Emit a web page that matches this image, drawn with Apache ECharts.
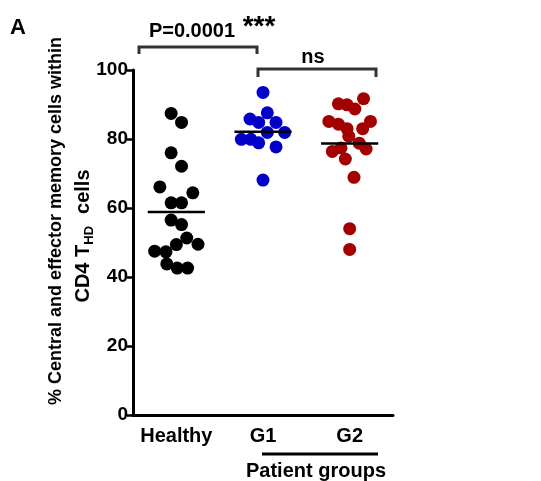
<!DOCTYPE html>
<html><head><meta charset="utf-8">
<script src="https://cdn.jsdelivr.net/npm/echarts@6/dist/echarts.min.js"></script>
<style>html,body{margin:0;padding:0;background:#fff}#c{width:541px;height:481px}</style>
</head><body><div id="c"></div>
<script>
const categories = ['Healthy', 'G1', 'G2'];
const yTicks = [0, 20, 40, 60, 80, 100];
const healthyValues = [87.4, 84.8, 76.0, 72.1, 66.1, 64.4, 61.5, 61.5, 56.5, 55.2, 51.3, 49.4, 49.5, 47.5, 47.3, 43.8, 42.6, 42.6];
const healthyJitter = [-0.06, 0.06, -0.06, 0.06, -0.19, 0.19, -0.06, 0.06, -0.06, 0.06, 0.12, 0.0, 0.25, -0.25, -0.12, -0.11, 0.01, 0.13];
const g1Values = [93.5, 87.6, 85.8, 84.8, 84.8, 81.9, 81.9, 79.9, 79.9, 78.9, 77.7, 68.1];
const g1Jitter = [0.0, 0.05, -0.15, -0.05, 0.15, 0.05, 0.25, -0.25, -0.14, -0.05, 0.15, 0.0];
const g2Values = [91.7, 90.2, 89.9, 88.7, 85.1, 85.1, 84.3, 83.0, 83.0, 80.8, 78.8, 77.1, 76.4, 77.4, 74.2, 68.9, 54.0, 48.0];
const g2Jitter = [0.16, -0.13, -0.03, 0.06, -0.24, 0.24, -0.13, -0.03, 0.15, -0.01, 0.11, 0.19, -0.2, -0.1, -0.05, 0.05, 0.0, 0.0];
const groupColors = ['#000000', '#0000c8', '#a50000'];

const FONT = '"Liberation Sans", Arial, Helvetica, sans-serif';
const groups = [
  {values: healthyValues, jitter: healthyJitter},
  {values: g1Values, jitter: g1Jitter},
  {values: g2Values, jitter: g2Jitter}
];
const mean = a => a.reduce((s, v) => s + v, 0) / a.length;

const series = [];
groups.forEach((g, gi) => {
  series.push({
    type: 'scatter', xAxisIndex: 1, yAxisIndex: 0,
    symbol: 'circle', symbolSize: 13,
    itemStyle: {color: groupColors[gi], opacity: 1},
    data: g.values.map((v, i) => [gi + g.jitter[i], v]),
    z: 2, silent: true
  });
});
groups.forEach((g, gi) => {
  const m = mean(g.values);
  series.push({
    type: 'line', xAxisIndex: 1, yAxisIndex: 0,
    symbol: 'none', silent: true,
    lineStyle: {color: '#000', width: 2.5},
    data: [[gi - 0.33, m], [gi + 0.33, m]],
    z: 5
  });
});

const chart = echarts.init(document.getElementById('c'), null, {renderer: 'canvas'});
chart.setOption({
  animation: false,
  backgroundColor: '#fff',
  grid: {left: 133, right: 148, top: 70, bottom: 66, containLabel: false},
  xAxis: [
    {
      type: 'category', data: categories, boundaryGap: true,
      axisLine: {onZero: false, lineStyle: {color: '#000', width: 3}},
      axisTick: {alignWithLabel: true, length: 5, lineStyle: {color: '#000', width: 2.5}},
      axisLabel: {interval: 0, color: '#000', fontFamily: FONT, fontWeight: 'bold', fontSize: 20, margin: 11},
      splitLine: {show: false}
    },
    {type: 'value', min: -0.5, max: 2.5, show: false}
  ],
  yAxis: [{
    type: 'value', min: 0, max: 100, interval: 20,
    axisLine: {show: true, onZero: false, lineStyle: {color: '#000', width: 3}},
    axisTick: {show: true, length: 6, lineStyle: {color: '#000', width: 2.5}},
    axisLabel: {color: '#000', fontFamily: FONT, fontWeight: 'bold', fontSize: 19, margin: 5,
      formatter: v => yTicks.indexOf(v) >= 0 ? String(v) : ''},
    splitLine: {show: false}
  }],
  series: series,
  graphic: [
    {type: 'text', x: 18, y: 28, style: {text: 'A', font: 'bold 22px ' + FONT, fill: '#000', textAlign: 'center', textVerticalAlign: 'middle'}},
    {type: 'text', x: 192, y: 31, style: {text: 'P=0.0001', font: 'bold 20px ' + FONT, fill: '#000', textAlign: 'center', textVerticalAlign: 'middle'}},
    {type: 'text', x: 259, y: 27, style: {text: '***', font: 'bold 28px ' + FONT, fill: '#000', textAlign: 'center', textVerticalAlign: 'middle'}},
    {type: 'text', x: 313, y: 57, style: {text: 'ns', font: 'bold 20px ' + FONT, fill: '#000', textAlign: 'center', textVerticalAlign: 'middle'}},
    {type: 'polyline', shape: {points: [[139, 54], [139, 47], [257, 47], [257, 54]]}, style: {stroke: '#333', lineWidth: 3, fill: null}},
    {type: 'polyline', shape: {points: [[258, 77], [258, 69], [376, 69], [376, 77]]}, style: {stroke: '#333', lineWidth: 3, fill: null}},
    {type: 'line', shape: {x1: 262, y1: 454, x2: 378, y2: 454}, style: {stroke: '#000', lineWidth: 3}},
    {type: 'text', x: 316, y: 471, style: {text: 'Patient groups', font: 'bold 20px ' + FONT, fill: '#000', textAlign: 'center', textVerticalAlign: 'middle'}},
    {type: 'text', x: 56, y: 221, rotation: Math.PI / 2,
      style: {text: '% Central and effector memory cells within', font: 'bold 18px ' + FONT, fill: '#000', textAlign: 'center', textVerticalAlign: 'middle'}},
    {type: 'text', x: 83, y: 236, rotation: Math.PI / 2,
      style: {
        text: '{a|CD4 T}{s|HD}{b|cells}',
        textAlign: 'center', textVerticalAlign: 'middle', fill: '#000',
        rich: {
          a: {fontFamily: FONT, fontWeight: 'bold', fontSize: 20, lineHeight: 26, fill: '#000'},
          b: {fontFamily: FONT, fontWeight: 'bold', fontSize: 20, lineHeight: 26, fill: '#000', padding: [0, 0, 0, 12]},
          s: {fontFamily: FONT, fontWeight: 'bold', fontSize: 13, lineHeight: 13, verticalAlign: 'bottom', fill: '#000'}
        }
      }}
  ]
});
</script>
</body></html>
